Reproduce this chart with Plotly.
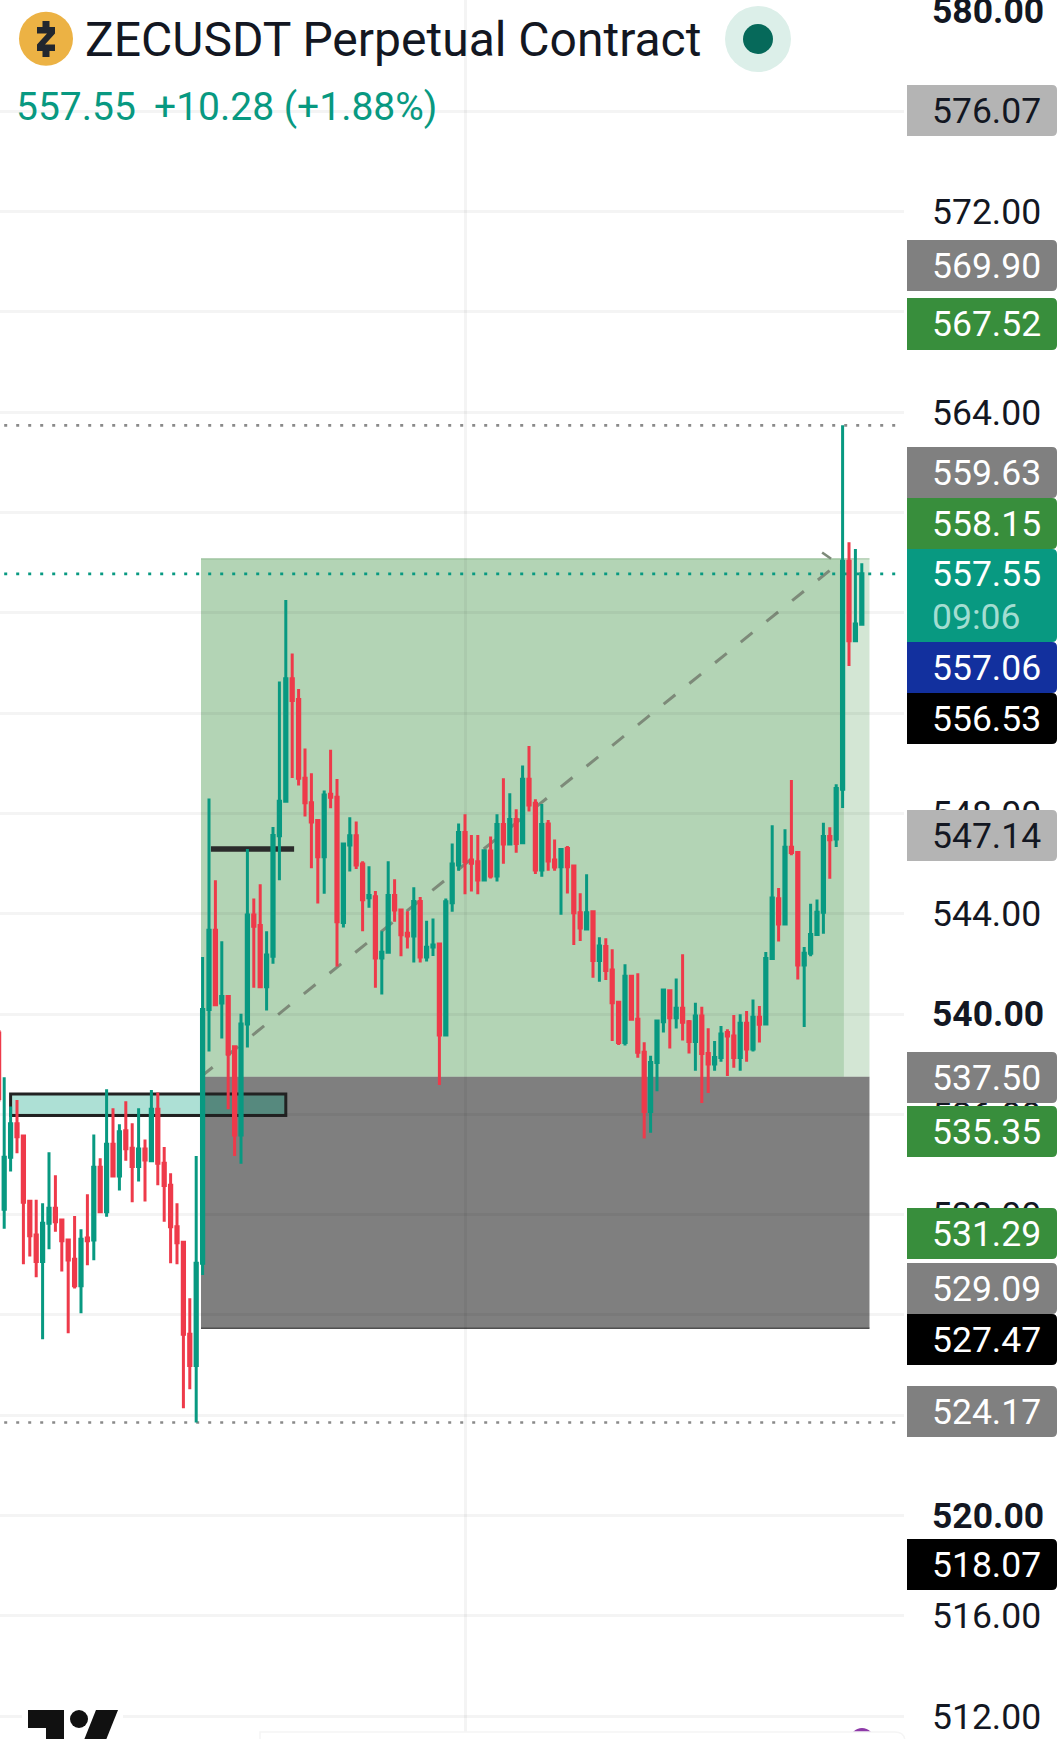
import plotly.graph_objects as go

WIDTH, HEIGHT = 1060, 1739
PLOT_W = 904

# OHLC of ZECUSDT, one row of values per bar index
bar_index = list(range(-1, 135))
opens = [
    539.30, 532.21, 534.29, 535.62, 535.14, 532.53, 531.19, 530.13, 531.66, 532.25,
    531.79, 530.99, 530.22, 529.16, 531.07, 530.99, 533.89, 532.12, 534.81, 533.54,
    535.34, 534.65, 533.92, 534.62, 534.15, 536.20, 534.05, 533.17, 531.52, 530.90,
    527.23, 525.98, 530.06, 540.18, 543.34, 540.44, 540.70, 538.69, 535.18, 539.60,
    543.95, 543.53, 541.09, 542.30, 547.11, 548.48, 553.37, 552.54, 549.40, 548.42,
    547.72, 546.27, 548.76, 548.64, 543.65, 546.74, 547.11, 545.98, 544.64, 544.68,
    542.23, 542.46, 544.72, 544.15, 543.22, 543.11, 544.49, 542.27, 542.67, 542.79,
    539.16, 544.44, 545.94, 547.24, 546.14, 546.07, 545.34, 546.50, 545.50, 547.56,
    546.78, 547.76, 546.83, 549.36, 548.40, 545.74, 547.58, 546.14, 545.87, 546.60,
    545.90, 544.04, 543.39, 544.08, 542.13, 542.69, 541.75, 540.47, 538.86, 541.51,
    539.79, 538.47, 536.11, 538.07, 539.69, 540.93, 539.85, 540.23, 539.69, 538.90,
    539.92, 538.43, 538.01, 538.27, 539.26, 539.12, 538.27, 539.63, 538.60, 539.87,
    539.60, 542.21, 544.60, 543.59, 546.65, 546.44, 541.95, 542.42, 543.17, 544.06,
    547.08, 546.98, 548.96, 558.05, 554.88, 555.54,
]
highs = [
    539.30, 537.48, 536.31, 536.57, 535.14, 532.53, 532.59, 532.45, 534.49, 533.57,
    531.79, 530.99, 531.95, 531.42, 532.81, 535.20, 534.25, 537.00, 536.24, 535.60,
    536.52, 535.64, 536.24, 535.00, 536.97, 536.87, 534.70, 533.65, 532.45, 530.90,
    528.67, 534.34, 542.27, 548.59, 545.33, 542.90, 540.70, 538.69, 540.01, 546.58,
    544.61, 545.17, 543.30, 547.46, 553.26, 556.51, 554.37, 552.96, 550.59, 549.60,
    547.77, 548.91, 550.54, 549.37, 546.80, 547.84, 547.68, 546.09, 545.89, 544.90,
    543.30, 546.09, 545.37, 544.18, 544.10, 545.05, 544.67, 543.72, 543.81, 542.82,
    544.61, 546.80, 547.60, 547.96, 547.14, 547.14, 546.54, 547.08, 547.96, 549.40,
    548.80, 548.16, 549.91, 550.69, 548.56, 548.37, 547.74, 546.96, 546.56, 546.70,
    545.90, 544.81, 545.57, 544.11, 543.06, 543.02, 542.58, 540.47, 541.98, 541.51,
    541.62, 538.87, 538.34, 539.76, 541.02, 540.96, 541.42, 542.38, 539.76, 540.45,
    540.29, 539.43, 538.92, 539.52, 539.39, 539.96, 539.99, 540.12, 540.58, 540.32,
    542.47, 547.53, 545.02, 547.37, 549.33, 546.44, 542.67, 544.40, 544.57, 547.63,
    547.45, 549.16, 563.47, 558.81, 558.54, 557.97,
]
lows = [
    536.00, 531.44, 533.72, 534.45, 530.02, 530.33, 529.50, 527.03, 530.62, 531.32,
    529.73, 527.27, 529.06, 528.07, 529.98, 530.18, 532.12, 531.92, 533.54, 532.96,
    534.15, 532.49, 533.32, 532.52, 534.14, 533.17, 531.72, 530.06, 530.02, 524.28,
    525.04, 523.71, 529.59, 538.50, 540.34, 539.02, 536.20, 534.34, 534.03, 538.66,
    541.05, 541.09, 540.14, 542.00, 545.33, 548.48, 549.41, 549.11, 547.87, 545.81,
    544.41, 544.79, 548.20, 541.89, 543.45, 545.68, 545.78, 543.30, 544.24, 541.05,
    540.78, 542.43, 543.68, 542.30, 542.61, 542.05, 542.05, 542.09, 542.31, 537.17,
    539.16, 544.08, 545.71, 544.77, 544.88, 544.77, 545.32, 545.40, 545.28, 545.99,
    546.78, 546.43, 546.83, 548.07, 545.58, 545.47, 545.71, 545.71, 543.96, 544.80,
    542.75, 542.91, 543.39, 541.45, 541.29, 541.36, 538.92, 538.76, 538.74, 539.79,
    538.26, 535.04, 535.27, 536.92, 539.26, 538.62, 539.42, 538.94, 538.43, 537.74,
    536.45, 536.85, 537.74, 538.10, 537.53, 537.86, 537.74, 538.10, 538.50, 538.86,
    539.60, 542.21, 542.89, 543.59, 546.33, 541.38, 539.48, 542.30, 543.17, 543.20,
    545.39, 546.66, 548.21, 553.88, 554.88, 555.54,
]
closes = [
    536.57, 534.29, 535.62, 535.11, 532.49, 531.16, 530.13, 531.66, 532.25, 531.72,
    530.96, 530.19, 529.16, 531.02, 530.96, 533.89, 532.12, 534.81, 533.54, 535.31,
    534.63, 533.92, 534.62, 534.18, 536.20, 534.05, 533.16, 531.52, 530.88, 527.23,
    525.98, 530.06, 540.18, 543.34, 540.37, 540.70, 538.41, 535.18, 539.60, 543.95,
    543.50, 541.09, 542.35, 547.12, 548.48, 553.37, 552.50, 549.40, 548.42, 547.66,
    546.27, 548.73, 548.64, 543.68, 546.78, 547.11, 545.94, 544.56, 544.72, 542.23,
    542.46, 544.72, 544.15, 543.16, 543.11, 544.49, 542.27, 542.66, 542.75, 539.16,
    544.48, 545.98, 547.24, 546.07, 546.01, 545.34, 546.51, 545.50, 547.56, 546.78,
    547.76, 546.80, 549.36, 548.33, 545.74, 547.56, 546.10, 545.86, 546.56, 545.87,
    544.04, 543.43, 544.04, 542.13, 542.71, 541.73, 540.45, 538.86, 541.51, 539.79,
    538.47, 536.11, 538.07, 539.72, 540.96, 539.85, 540.23, 539.67, 538.90, 539.92,
    538.43, 538.01, 538.27, 539.20, 539.12, 538.27, 539.63, 538.60, 539.87, 539.59,
    542.21, 544.63, 543.59, 546.65, 546.44, 541.95, 542.42, 543.17, 544.06, 547.08,
    546.95, 548.99, 558.05, 554.88, 555.55, 557.55,
]

# Price axis
axis_prices = list(range(512, 580, 4))
bold_prices = [540, 520]
top_price_label = "580.00"

# Long position tool
target_price = 558.15
entry_price = 537.50
stop_price = 527.47
position_start, position_end, position_now = 30.75, 135.2, 131.2

# Supply zone and a manual level
zone_top, zone_bottom = 536.81, 535.95
zone_start, zone_end = 1.0, 44.0
level_price, level_start, level_end = 546.58, 32.3, 45.3

# Badges stacked on the price scale
badge_labels = ["576.07", "569.90", "567.52", "559.63", "558.15", "557.55", "557.06",
                "556.53", "547.14", "537.50", "535.35", "531.29", "529.09", "527.47",
                "524.17", "518.07"]
badge_spans = [(85, 136), (240, 291), (298, 350), (447, 498), (498, 549), (549, 642), (642, 693),
               (693, 744), (810, 861), (1052, 1103), (1106, 1157), (1208, 1259), (1263, 1314),
               (1314, 1365), (1386, 1437), (1539, 1590)]
GREY, LIGHT, GREEN, TEAL, BLUE, BLACK = "#808080", "#b4b4b4", "#388e3c", "#089981", "#12309e", "#000000"
badge_fills = [LIGHT, GREY, GREEN, GREY, GREEN, TEAL, BLUE, BLACK, LIGHT, GREY, GREEN, GREEN,
               GREY, BLACK, GREY, BLACK]

INK = "#131722"
UP, DOWN = "#089981", "#ee3a4a"
FONT = "Roboto"
PX_PER_UNIT = 25.08
Y_540 = 1014.0
LABEL_X = 931


def X(px):
    return px / PLOT_W


def Y(py):
    return 1 - py / HEIGHT


def paper_path(points):
    return "M" + " L".join(f"{X(a):.5f},{Y(b):.5f}" for a, b in points) + " Z"


def badge_path(left, right, top, bottom, r=5):
    return (f"M{X(left):.5f},{Y(top):.5f} L{X(right - r):.5f},{Y(top):.5f} "
            f"Q{X(right):.5f},{Y(top):.5f} {X(right):.5f},{Y(top + r):.5f} "
            f"L{X(right):.5f},{Y(bottom - r):.5f} "
            f"Q{X(right):.5f},{Y(bottom):.5f} {X(right - r):.5f},{Y(bottom):.5f} "
            f"L{X(left):.5f},{Y(bottom):.5f} Z")


def paper_circle(cx, cy, r, color):
    return dict(type="circle", xref="paper", yref="paper", layer="above",
                x0=X(cx - r), x1=X(cx + r), y0=Y(cy + r), y1=Y(cy - r),
                fillcolor=color, line=dict(width=0))


def paper_poly(points, color):
    return dict(type="path", xref="paper", yref="paper", layer="above",
                path=paper_path(points), fillcolor=color, line=dict(width=0))


def data_rect(x0, x1, y0, y1, fill, line=None, width=0):
    return dict(type="rect", xref="x", yref="y", layer="below", x0=x0, x1=x1, y0=y0, y1=y1,
                fillcolor=fill, line=dict(color=line, width=width) if line else dict(width=0))


def data_line(x0, x1, y0, y1, color, width, dash="solid"):
    return dict(type="line", xref="x", yref="y", layer="below", x0=x0, x1=x1, y0=y0, y1=y1,
                line=dict(color=color, width=width, dash=dash))


GREEN_FILL = "rgba(56,142,60,0.22)"
shapes = [
    # position tool
    data_rect(position_start, position_end, entry_price, target_price, GREEN_FILL),
    data_rect(position_start, position_now, entry_price, target_price, "rgba(56,142,60,0.20)"),
    data_rect(position_start, position_end, stop_price, entry_price, "rgba(0,0,0,0.5)"),
    data_line(position_start, position_end, stop_price, stop_price, "#4f4f4f", 1.5),
    data_line(position_start, position_end, target_price, target_price, "rgba(90,150,90,0.35)", 1.5),
    data_line(position_start, position_now - 1.9, entry_price, target_price - 0.4, "#7d8a79", 3, "15px,18px"),
    data_line(position_now - 3.4, position_now - 2.0, target_price + 0.25, target_price + 0.0, "#7d8a79", 2.6),
    # zone and level
    data_rect(zone_start, zone_end, zone_bottom, zone_top, "rgba(0,160,125,0.32)", "#222222", 3),
    data_line(level_start, level_end, level_price, level_price, "#2b2b2b", 5.5),
    # session high, low and last price
    data_line(0, 139.4, max(highs), max(highs), "#8a8a8a", 2.6, "3px,9px"),
    data_line(0, 139.4, min(lows), min(lows), "#8a8a8a", 2.6, "3px,9px"),
    data_line(0, 139.4, closes[-1], closes[-1], UP, 2.6, "3px,9px"),
]

# badges
for (top, bottom), fill in zip(badge_spans, badge_fills):
    shapes.append(dict(type="path", xref="paper", yref="paper", layer="above",
                       path=badge_path(907, 1057, top, bottom), fillcolor=fill, line=dict(width=0)))

# coin icon and status dot
shapes += [
    paper_circle(46, 38.7, 27, "#ecb244"),
    paper_poly([(42.5, 21), (49.5, 21), (49.5, 27), (55, 27), (55, 33.5), (45, 44.5), (55, 44.5),
                (55, 51), (49.5, 51), (49.5, 57), (42.5, 57), (42.5, 51), (37, 51), (37, 44.5),
                (47, 33.5), (37, 33.5), (37, 27), (42.5, 27)], "#22272e"),
    paper_circle(758, 39, 33, "#dcefe9"),
    paper_circle(758, 39, 15, "#06695a"),
]

# bottom panel edge and the badge poking out of it
shapes += [
    paper_circle(862, 1740, 12, "#8e3aa8"),
    dict(type="path", xref="paper", yref="paper", layer="above",
         path=badge_path(260, 905, 1732, 1760, r=10), fillcolor="#ffffff",
         line=dict(color="#f5f5f5", width=1.5)),
]

# watermark
shapes += [
    dict(type="rect", xref="paper", yref="paper", layer="above", x0=X(22), x1=X(123),
         y0=Y(1739), y1=Y(1706), fillcolor="#ffffff", line=dict(width=0)),
    paper_poly([(28, 1710), (64, 1710), (64, 1745), (46, 1745), (46, 1728), (28, 1728)], "#111111"),
    paper_circle(79, 1719, 9, "#111111"),
    paper_poly([(96, 1710), (118, 1710), (104, 1745), (82, 1745)], "#111111"),
]

annotations = []


def add_text(text, px, py, size, color, anchor="left"):
    annotations.append(dict(text=text, xref="paper", yref="paper", x=X(px), y=Y(py),
                            xanchor=anchor, yanchor="middle", showarrow=False,
                            font=dict(family=FONT, size=size, color=color), align="left",
                            borderpad=0))


add_text("ZECUSDT Perpetual Contract", 84, 40, 48, INK)
add_text("557.55", 15, 107.5, 39, UP)
add_text("+10.28 (+1.88%)", 153, 107.5, 39, UP)
add_text(f"<b>{top_price_label}</b>", LABEL_X, 11, 35.5, INK)

for label, (top, bottom), fill in zip(badge_labels, badge_spans, badge_fills):
    mid = (top + bottom) / 2
    ink = INK if fill == LIGHT else "#ffffff"
    if label == "557.55":
        add_text(label, LABEL_X, top + 25, 35.5, ink)
        add_text("09:06", LABEL_X, top + 68, 35.5, "#a3ddd1")
    else:
        add_text(label, LABEL_X, mid, 35.5, ink)

fig = go.Figure(go.Candlestick(
    x=bar_index, open=opens, high=highs, low=lows, close=closes,
    increasing=dict(line=dict(color=UP, width=3), fillcolor=UP),
    decreasing=dict(line=dict(color=DOWN, width=3), fillcolor=DOWN),
    hoverinfo="skip",
))

# Sliver of the bar cut off by the left edge of the pane
fig.add_trace(go.Scatter(x=[-0.62, -0.62], y=[opens[0], closes[0]], mode="lines",
                         line=dict(color=DOWN, width=2), hoverinfo="skip"))

GRID = "rgba(0,0,0,0.042)"
fig.update_layout(
    width=WIDTH, height=HEIGHT,
    margin=dict(l=0, r=WIDTH - PLOT_W, t=0, b=0),
    paper_bgcolor="#ffffff", plot_bgcolor="#ffffff",
    showlegend=False, boxgap=0.5,
    shapes=shapes, annotations=annotations,
    xaxis=dict(range=[-4.2 / 6.4, (PLOT_W - 4.2) / 6.4], rangeslider=dict(visible=False),
               tickmode="array", tickvals=[72], showticklabels=False, ticks="",
               showgrid=True, gridcolor=GRID, gridwidth=2.5, zeroline=False, showline=False),
    yaxis=dict(range=[540 - (HEIGHT - Y_540) / PX_PER_UNIT, 540 + Y_540 / PX_PER_UNIT],
               side="right", tickmode="array", tickvals=axis_prices,
               ticktext=[f"<b>{p:.2f}</b>" if p in bold_prices else f"{p:.2f}" for p in axis_prices],
               tickfont=dict(family=FONT, size=35.5, color=INK), ticks="", ticklabelstandoff=27,
               showgrid=True, gridcolor=GRID, gridwidth=2.5, zeroline=False, showline=False,
               automargin=False),
)

fig.write_html("out.html", config=dict(displayModeBar=False))
